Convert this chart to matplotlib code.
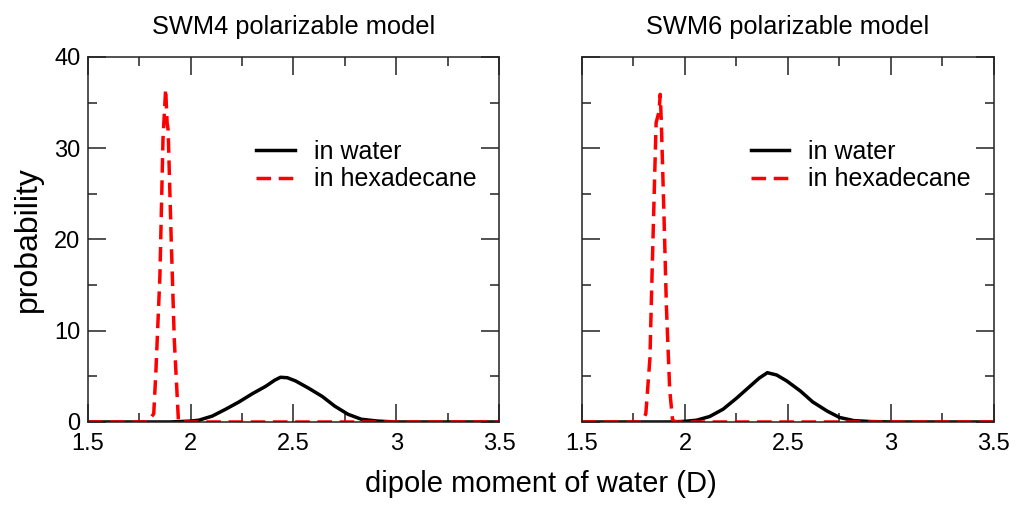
import numpy as np
import matplotlib.pyplot as plt
from matplotlib.ticker import MultipleLocator

plt.rcParams['font.family'] = ['Liberation Sans', 'DejaVu Sans']

# dipole distributions, SWM4 model
swm4_water_x = [1.5, 1.9, 2.0, 2.04, 2.105, 2.17, 2.235, 2.30, 2.364, 2.41, 2.437, 2.47, 2.51,
                2.574, 2.64, 2.70, 2.765, 2.83, 2.91, 3.0, 3.5]
swm4_water_y = [0.0, 0.0, 0.1, 0.2, 0.65, 1.4, 2.2, 3.1, 3.9, 4.6, 4.9, 4.85, 4.5,
                3.7, 2.8, 1.75, 0.85, 0.3, 0.1, 0.0, 0.0]
swm4_hex_x = [1.5, 1.79, 1.82, 1.83, 1.85, 1.865, 1.878, 1.885, 1.89, 1.905, 1.92, 1.94, 1.945, 3.5]
swm4_hex_y = [0.0, 0.0, 0.9, 5.3, 16.0, 31.0, 36.5, 32.8, 32.0, 20.0, 9.0, 0.2, 0.0, 0.0]

# dipole distributions, SWM6 model
swm6_water_x = [1.5, 1.92, 2.0, 2.057, 2.12, 2.185, 2.25, 2.31, 2.36, 2.40, 2.445, 2.494,
                2.56, 2.62, 2.69, 2.75, 2.82, 2.9, 3.0, 3.5]
swm6_water_y = [0.0, 0.0, 0.07, 0.2, 0.6, 1.4, 2.6, 3.8, 4.8, 5.4, 5.15, 4.5,
                3.4, 2.2, 1.2, 0.5, 0.15, 0.05, 0.0, 0.0]
swm6_hex_x = [1.5, 1.79, 1.81, 1.83, 1.84, 1.853, 1.86, 1.874, 1.88, 1.885, 1.897, 1.91, 1.926, 1.94, 1.958, 3.5]
swm6_hex_y = [0.0, 0.0, 0.9, 7.0, 16.0, 27.0, 32.8, 34.0, 35.9, 33.0, 23.6, 12.6, 3.5, 0.2, 0.0, 0.0]

panels = [
    ('SWM4 polarizable model', swm4_water_x, swm4_water_y, swm4_hex_x, swm4_hex_y),
    ('SWM6 polarizable model', swm6_water_x, swm6_water_y, swm6_hex_x, swm6_hex_y),
]

fig = plt.figure(figsize=(10.16, 5.12), dpi=100)
axes = [fig.add_axes([0.0866, 0.1758, 0.4045, 0.713]),
        fig.add_axes([0.5728, 0.1758, 0.4055, 0.713])]

for i, (ax, (title, wx, wy, hx, hy)) in enumerate(zip(axes, panels)):
    ax.plot(wx, wy, color='black', lw=2.5, label='in water')
    ax.plot(hx, hy, color='red', lw=2.5, dashes=(4.2, 2.2), label='in hexadecane')
    ax.set_xlim(1.5, 3.5)
    ax.set_ylim(0, 40)
    ax.xaxis.set_major_locator(MultipleLocator(0.5))
    ax.xaxis.set_minor_locator(MultipleLocator(0.25))
    ax.yaxis.set_major_locator(MultipleLocator(10))
    ax.yaxis.set_minor_locator(MultipleLocator(5))
    ax.xaxis.set_major_formatter(lambda v, p: f'{v:g}')
    ax.tick_params(which='both', direction='in', top=True, right=True,
                   labelsize=17, width=1.1, color='#222222')
    ax.tick_params(which='major', length=13)
    ax.tick_params(which='minor', length=6.5)
    ax.tick_params(axis='x', which='major', pad=8)
    ax.tick_params(axis='y', which='major', pad=5.5)
    if i == 1:
        ax.tick_params(labelleft=False)
    for s in ax.spines.values():
        s.set_linewidth(1.1)
        s.set_color('#222222')
    ax.set_title(title, fontsize=18.3, pad=16.5)
    ax.legend(loc='upper left', bbox_to_anchor=(0.355, 0.835), frameon=False,
              fontsize=18, handlelength=1.55, handletextpad=0.75, labelspacing=0.15)

axes[0].set_ylabel('probability', fontsize=23, labelpad=8)
fig.text(0.532, 0.027, 'dipole moment of water (D)', fontsize=21, ha='center', va='bottom')

fig.savefig('out.png', dpi=100)
